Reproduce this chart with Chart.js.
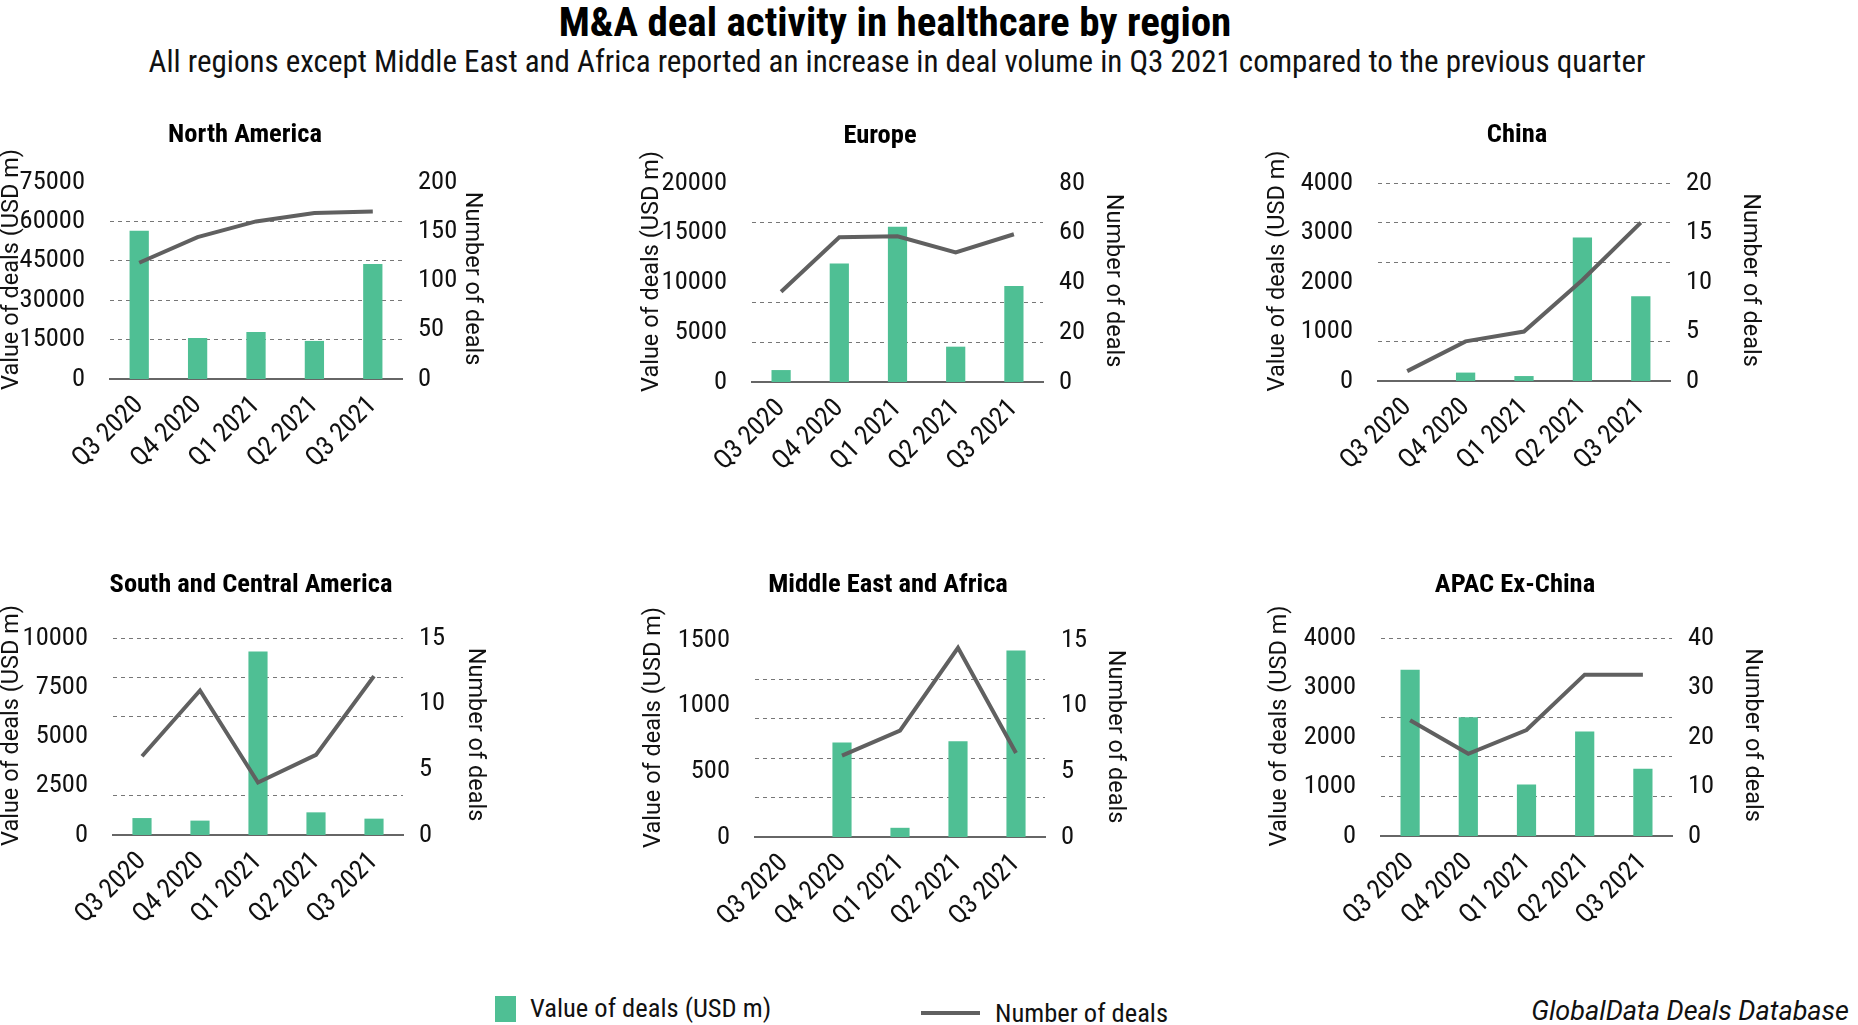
<!DOCTYPE html>
<html>
<head>
<meta charset="utf-8">
<script src="https://cdn.jsdelivr.net/npm/chart.js@4.4.0/dist/chart.umd.min.js"></script>
<style>
  body { margin: 0; width: 1858px; height: 1025px; background: #fff; position: relative; overflow: hidden;
         font-family: Roboto, "Liberation Sans", sans-serif; font-stretch: condensed; color: #111; }
  .panel { position: absolute; }
  #title { position: absolute; left: 0; width: 1790px; top: 0px; text-align: center; font-weight: bold; font-size: 41px; line-height: 44px; color: #000; }
  #subtitle { position: absolute; left: 0; width: 1794px; top: 45px; text-align: center; font-size: 31px; line-height: 34px; }
  .leg { position: absolute; font-size: 26.5px; line-height: 30px; white-space: nowrap; }
</style>
</head>
<body>
<div id="title">M&amp;A deal activity in healthcare by region</div>
<div id="subtitle">All regions except Middle East and Africa reported an increase in deal volume in Q3 2021 compared to the previous quarter</div>

<div class="leg" style="left:495px; top:996px; width:21px; height:26px; background:#4fbf94;"></div>
<div class="leg" style="left:530px; top:993px;">Value of deals (USD m)</div>
<div class="leg" style="left:921px; top:1011px; width:59px; height:4px; background:#606060;"></div>
<div class="leg" style="left:995px; top:998px;">Number of deals</div>
<div class="leg" style="right:9px; top:996px; font-style:italic; font-stretch:normal; font-size:27px;">GlobalData Deals Database</div>

<script>
// quarters on the x axis
const quarters = ['Q3 2020', 'Q4 2020', 'Q1 2021', 'Q2 2021', 'Q3 2021'];
const regions = ['North America', 'Europe', 'China', 'South and Central America', 'Middle East and Africa', 'APAC Ex-China'];

// value of deals (USD m), one array per region
const valueNorthAmerica = [56400, 15600, 17900, 14500, 43800];
const valueEurope = [1200, 11900, 15600, 3550, 9650];
const valueChina = [0, 170, 100, 2900, 1710];
const valueSouthCentral = [860, 730, 9320, 1150, 830];
const valueMiddleEast = [0, 720, 70, 730, 1420];
const valueApac = [3360, 2400, 1040, 2110, 1360];

// number of deals
const dealsNorthAmerica = [118, 144, 160, 168.5, 170];
const dealsEurope = [36.3, 58.2, 58.6, 52.1, 59.4];
const dealsChina = [1, 4, 5, 10.2, 16];
const dealsSouthCentral = [6, 11, 4, 6.1, 12.1];
const dealsMiddleEast = [null, 6.2, 8.1, 14.4, 6.4];
const dealsApac = [23.4, 16.6, 21.4, 32.6, 32.6];

// tick labels for the two axes
const valueMax = [75000, 20000, 4000, 10000, 1500, 4000];
const valueStep = [15000, 5000, 1000, 2500, 500, 1000];
const dealsMax = [200, 80, 20, 15, 15, 40];
const dealsStep = [50, 20, 5, 5, 5, 10];

const values = [valueNorthAmerica, valueEurope, valueChina, valueSouthCentral, valueMiddleEast, valueApac];
const deals = [dealsNorthAmerica, dealsEurope, dealsChina, dealsSouthCentral, dealsMiddleEast, dealsApac];

// where each panel sits on the page (absolute px)
const panels = [
  { left: -2,   top: 110, width: 494, titleY: 135, leftTitleX: 12.5, rightTitleX: 472,  plotLeft: 110,  plotRight: 402,  plotTop: 182, plotBottom: 379, faint: [0, 5] },
  { left: 633,  top: 110, width: 494, titleY: 136, leftTitleX: 652.5, rightTitleX: 1113, plotLeft: 752,  plotRight: 1043, plotTop: 183, plotBottom: 382, faint: [0, 3, 5] },
  { left: 1264, top: 110, width: 506, titleY: 135, leftTitleX: 1278, rightTitleX: 1750, plotLeft: 1378, plotRight: 1670, plotTop: 183, plotBottom: 381, faint: [0, 2] },
  { left: -2,   top: 560, width: 506, titleY: 585, leftTitleX: 12.5, rightTitleX: 475,  plotLeft: 113,  plotRight: 403,  plotTop: 638, plotBottom: 835, faint: [0, 2] },
  { left: 640,  top: 560, width: 496, titleY: 585, leftTitleX: 654,  rightTitleX: 1115, plotLeft: 755,  plotRight: 1045, plotTop: 640, plotBottom: 837, faint: [0, 5] },
  { left: 1266, top: 560, width: 498, titleY: 585, leftTitleX: 1280, rightTitleX: 1752, plotLeft: 1381, plotRight: 1672, plotTop: 638, plotBottom: 836, faint: [0, 4] }
];
const panelHeight = 400;

const barColor = '#4fbf94';
const lineColor = '#606060';
const fam = 'Roboto, "Liberation Sans", sans-serif';
const font = { family: fam, size: 26.5, weight: 'condensed', lineHeight: 1.1 };
const titleFont = { family: fam, size: 26.5, weight: 'bold condensed', lineHeight: 1.1 };
const titleLine = 26.5 * 1.1;
const axisTitleFont = '23.5px ' + fam;

// axis titles drawn by hand so they can sit where the original puts them
function axisTitles(p) {
  return {
    id: 'axisTitles',
    afterDraw(chart) {
      const ctx = chart.ctx;
      const mid = (p.plotTop + p.plotBottom) / 2 - p.top;
      ctx.save();
      ctx.font = axisTitleFont;
      ctx.fillStyle = '#111';
      ctx.textAlign = 'center';
      ctx.textBaseline = 'middle';
      ctx.translate(p.leftTitleX - p.left, mid - 11);
      ctx.rotate(-Math.PI / 2);
      ctx.fillText('Value of deals (USD m)', 0, 0);
      ctx.restore();
      ctx.save();
      ctx.font = axisTitleFont;
      ctx.fillStyle = '#111';
      ctx.textAlign = 'center';
      ctx.textBaseline = 'middle';
      ctx.translate(p.rightTitleX - p.left, mid - 2);
      ctx.rotate(Math.PI / 2);
      ctx.fillText('Number of deals', 0, 0);
      ctx.restore();
    }
  };
}

function makeChart(i) {
  const p = panels[i];
  const wrap = document.createElement('div');
  wrap.className = 'panel';
  wrap.style.left = p.left + 'px';
  wrap.style.top = p.top + 'px';
  const canvas = document.createElement('canvas');
  canvas.width = p.width;
  canvas.height = panelHeight;
  canvas.style.width = p.width + 'px';
  canvas.style.height = panelHeight + 'px';
  wrap.appendChild(canvas);
  document.body.appendChild(wrap);

  const padTop = p.titleY - p.top - titleLine / 2;

  new Chart(canvas, {
    data: {
      labels: quarters,
      datasets: [
        {
          type: 'line', label: 'Number of deals', data: deals[i], yAxisID: 'y2',
          borderColor: lineColor, borderWidth: 4, pointRadius: 0, tension: 0, order: 0
        },
        {
          type: 'bar', label: 'Value of deals (USD m)', data: values[i], yAxisID: 'y',
          backgroundColor: barColor, barPercentage: 0.33, categoryPercentage: 1, order: 1
        }
      ]
    },
    options: {
      responsive: false,
      animation: false,
      layout: { padding: 0 },
      plugins: {
        legend: { display: false },
        tooltip: { enabled: false },
        title: {
          display: true, text: regions[i], color: '#000', font: titleFont,
          padding: { top: padTop, bottom: (p.plotTop - p.top) - padTop - titleLine }
        }
      },
      scales: {
        x: {
          offset: true,
          grid: { display: false },
          border: { display: true, color: '#666', width: 2 },
          ticks: { minRotation: 45, maxRotation: 45, color: '#111', font: font, padding: 4 },
          afterFit: s => { s.height = panelHeight - (p.plotBottom - p.top); }
        },
        y: {
          position: 'left', min: 0, max: valueMax[i],
          grid: { display: false },
          border: { display: false },
          ticks: { stepSize: valueStep[i], color: '#111', font: font, padding: 17, callback: v => String(v) },
          afterFit: s => { s.width = p.plotLeft - p.left; }
        },
        g: {
          position: 'left', min: 0, max: 5,
          ticks: { display: false, stepSize: 1 },
          grid: {
            drawTicks: false,
            color: c => p.faint.includes(c.index) ? 'rgba(0,0,0,0)' : '#777'
          },
          border: { display: false, dash: [4, 4] },
          afterFit: s => { s.width = 0; }
        },
        y2: {
          position: 'right', min: 0, max: dealsMax[i],
          grid: { display: false },
          border: { display: false },
          ticks: { stepSize: dealsStep[i], color: '#111', font: font, padding: 8 },
          afterFit: s => { s.width = (p.left + p.width) - p.plotRight; }
        }
      }
    },
    plugins: [axisTitles(p)]
  });
}

for (let i = 0; i < panels.length; i++) makeChart(i);
</script>
</body>
</html>
